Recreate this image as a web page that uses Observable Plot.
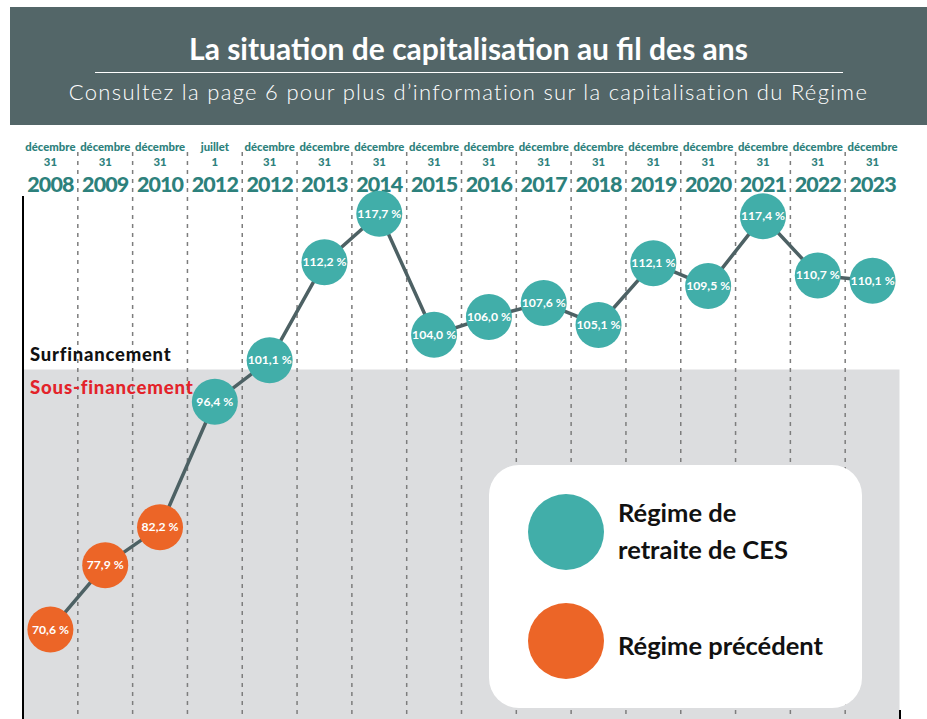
<!DOCTYPE html>
<html>
<head>
<meta charset="utf-8">
<script src="https://cdn.jsdelivr.net/npm/d3@7"></script>
<script src="https://cdn.jsdelivr.net/npm/@observablehq/plot@0.6"></script>
<style>
  html, body { margin: 0; padding: 0; background: #fff; width: 927px; height: 719px; overflow: hidden; }
  #header { position: absolute; left: 10px; top: 7px; width: 917px; height: 118px; background: #536668; color: #fff; }
  #title { position: absolute; left: 0; width: 917px; top: 22.7px; text-align: center; font-family: Lato, "Noto Sans", sans-serif; font-weight: bold; font-size: 30px; line-height: 36px; white-space: nowrap; }
  #rule { position: absolute; left: 85px; width: 748px; top: 64.5px; height: 0; border-top: 1.5px solid #fff; }
  #subtitle { position: absolute; left: 0; width: 917px; top: 70.5px; text-align: center; font-family: Lato, "Noto Sans", sans-serif; font-weight: 300; font-size: 22px; line-height: 28px; letter-spacing: 1.3px; white-space: nowrap; }
  #chart { position: absolute; left: 0; top: 125px; }
  #legend { position: absolute; left: 489px; top: 465px; width: 373px; height: 243px; background: #fff; border-radius: 30px; font-family: Lato, "Noto Sans", sans-serif; font-weight: bold; font-size: 25.5px; color: #111; }
  .sw { position: absolute; width: 76px; height: 76px; border-radius: 50%; left: 39px; }
  .lt { position: absolute; left: 129px; line-height: 37px; }
</style>
</head>
<body>
<div id="header">
  <div id="title">La situation de capitalisation au fil des ans</div>
  <div id="rule"></div>
  <div id="subtitle">Consultez la page 6 pour plus d’information sur la capitalisation du Régime</div>
</div>
<div id="chart"></div>
<div id="legend"></div>
<script>
// ---- data ----
const months = ["décembre","décembre","décembre","juillet","décembre","décembre","décembre","décembre","décembre","décembre","décembre","décembre","décembre","décembre","décembre","décembre"];
const days = ["31","31","31","1","31","31","31","31","31","31","31","31","31","31","31","31"];
const years = ["2008","2009","2010","2012","2012","2013","2014","2015","2016","2017","2018","2019","2020","2021","2022","2023"];
const values = [70.6,77.9,82.2,96.4,101.1,112.2,117.7,104.0,106.0,107.6,105.1,112.1,109.5,117.4,110.7,110.1];
const regimes = ["Régime précédent","Régime précédent","Régime précédent",
  "Régime de retraite de CES","Régime de retraite de CES","Régime de retraite de CES","Régime de retraite de CES",
  "Régime de retraite de CES","Régime de retraite de CES","Régime de retraite de CES","Régime de retraite de CES",
  "Régime de retraite de CES","Régime de retraite de CES","Régime de retraite de CES","Régime de retraite de CES",
  "Régime de retraite de CES"];
const legendLabels = ["Régime de retraite de CES","Régime précédent"];
const legendColors = ["#41aea9","#ec6527"];
const threshold = 100;
const zoneLabels = ["Surfinancement","Sous-financement"];

// ---- scale settings ----
const xDomain = [-0.5, years.length - 0.5];
const yDomain = [60.42, 127.69];

const data = values.map((v, i) => ({
  i, value: v, regime: regimes[i], month: months[i], day: days[i], year: years[i],
  label: v.toFixed(1).replace(".", ",") + " %"
}));
const bounds = years.slice(1).map((_, i) => i + 0.5);

const teal = "#2d817c";
const font = "Lato, 'Noto Sans', sans-serif";

const chart = Plot.plot({
  width: 927,
  height: 594,
  marginLeft: 22.5,
  marginRight: 27.5,
  marginTop: 0,
  marginBottom: 0,
  style: { fontFamily: font, background: "transparent", overflow: "visible" },
  x: { type: "linear", domain: xDomain, axis: null },
  y: { type: "linear", domain: yDomain, axis: null },
  color: { domain: legendLabels, range: legendColors },
  marks: [
    Plot.rect([{ y1: yDomain[0], y2: threshold }], {
      x1: () => xDomain[0], x2: () => xDomain[1], y1: "y1", y2: "y2", fill: "#dcdddf"
    }),
    Plot.ruleX(bounds, { x: d => d, stroke: "#7d7d7d", strokeWidth: 1.5, strokeDasharray: "4,5", insetTop: 27 }),
    Plot.ruleX([xDomain[0]], { x: d => d, stroke: "#000", strokeWidth: 2, insetTop: 71 }),
    Plot.ruleX([xDomain[1]], { x: d => d, stroke: "#000", strokeWidth: 2, insetTop: 585 }),
    Plot.text([zoneLabels[0]], { x: () => xDomain[0], y: () => threshold, text: d => d, textAnchor: "start", dx: 7, dy: -15, fill: "#111", fontWeight: 900, fontSize: 18.4 }),
    Plot.text([zoneLabels[1]], { x: () => xDomain[0], y: () => threshold, text: d => d, textAnchor: "start", dx: 7, dy: 18, fill: "#e3232a", fontWeight: 900, fontSize: 18.6 }),
    Plot.text(data, { x: "i", frameAnchor: "top", dy: 17, text: "month", fill: teal, fontWeight: 900, fontSize: 11.3 }),
    Plot.text(data, { x: "i", frameAnchor: "top", dy: 32, text: "day", fill: teal, fontWeight: 900, fontSize: 11.3 }),
    Plot.text(data, { x: "i", frameAnchor: "top", dy: 51, text: "year", fill: teal, fontWeight: 900, fontSize: 21.5 }),
    Plot.line(data, { x: "i", y: "value", stroke: "#4d6164", strokeWidth: 3.5 }),
    Plot.dot(data, { x: "i", y: "value", r: 23, fill: "regime", stroke: null }),
    Plot.text(data, { x: "i", y: "value", text: "label", fill: "#fff", fontWeight: "bold", fontSize: 12.2 })
  ]
});
// letter-spacing tweaks for specific text groups
d3.select(chart).selectAll("g").each(function() {
  const fs = this.getAttribute("font-size");
  if (fs === "21.5") this.setAttribute("letter-spacing", "-0.9");
  if (fs === "18.4" || fs === "18.6") this.setAttribute("letter-spacing", "0.8");
});
document.getElementById("chart").appendChild(chart);

// ---- legend ----
const lg = document.getElementById("legend");
const legendTops = [29, 138];
const legendLines = [["Régime de", "retraite de CES"], ["Régime précédent"]];
const textTops = [29, 162];
legendLabels.forEach((lab, k) => {
  const c = document.createElement("div");
  c.className = "sw";
  c.style.top = legendTops[k] + "px";
  c.style.background = legendColors[k];
  lg.appendChild(c);
  const t = document.createElement("div");
  t.className = "lt";
  t.style.top = textTops[k] + "px";
  t.innerHTML = legendLines[k].join("<br>");
  lg.appendChild(t);
});
</script>
</body>
</html>
